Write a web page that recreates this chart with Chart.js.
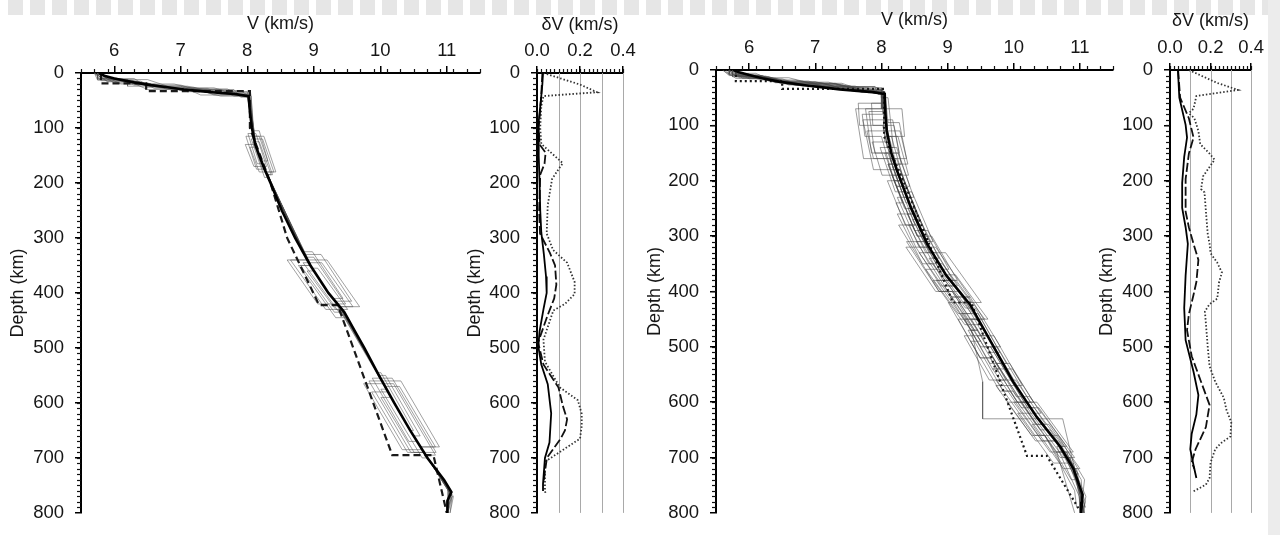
<!DOCTYPE html>
<html>
<head>
<meta charset="utf-8">
<script src="https://cdn.jsdelivr.net/npm/chart.js@4.4.1/dist/chart.umd.min.js"></script>
<style>
	html, body { margin: 0; padding: 0; background: #fff; }
	body { width: 1280px; height: 535px; position: relative; overflow: hidden; }
	.strip { position: absolute; left: 8px; top: 0; width: 1260px; height: 15px;
		background: repeating-linear-gradient(90deg, #e6e6e6 0 15px, #fff 15px 22px); }
	.side { position: absolute; left: 1268px; top: 0; width: 12px; height: 535px; background: #ececec; }
	canvas { position: absolute; top: 0; }
</style>
</head>
<body>
<div class="strip"></div>
<div class="side"></div>
<canvas id="p1" width="490" height="535" style="left:4px"></canvas>
<canvas id="p2" width="180" height="535" style="left:461px"></canvas>
<canvas id="p3" width="490" height="535" style="left:641px"></canvas>
<canvas id="p4" width="175" height="535" style="left:1093px"></canvas>
<script>
( function () {
	'use strict';

	var FONT = '"Liberation Sans", Arial, Helvetica, sans-serif';

	// tick labels
	var depthTicks = [ 0, 100, 200, 300, 400, 500, 600, 700, 800 ];
	var velTicks   = [ 6, 7, 8, 9, 10, 11 ];
	var dvTicks    = [ 0, 0.2, 0.4 ];

	// ---- left pair: [depth km, V km/s] ----
	var leftMean = [ [0,5.77],[5,5.85],[10,6.0],[17,6.3],[22,6.55],[26,6.8],[30,7.05],[33,7.3],[36,7.55],[38,7.8],
		[42,8.02],[70,8.04],[100,8.07],[130,8.12],[150,8.18],[175,8.26],[200,8.35],[250,8.52],[300,8.72],
		[350,8.95],[400,9.22],[435,9.46],[470,9.62],[500,9.76],[550,9.98],[600,10.21],[650,10.45],
		[700,10.71],[740,10.96],[762,11.07],[778,11.01],[800,11.01] ];
	var leftRef = [ [0,5.8],[19,5.8],[19,6.48],[33,6.48],[33,8.04],[100,8.04],[200,8.35],[300,8.6],[422,9.08],
		[422,9.36],[695,10.18],[695,10.8],[800,11.0] ];

	var leftModels = [
		[ [0,5.75],[12,5.75],[12,6.2],[24,6.2],[24,7.0],[40,7.3],[40,8.02],[115,8.1],[115,7.98],[175,8.14],[175,8.26],[340,8.9],[340,8.65],[430,9.18],[430,9.43],[560,10.03],[560,9.83],[690,10.46],[690,10.66],[765,11.05],[790,11.0] ],
		[ [0,5.8],[8,5.8],[8,6.0],[20,6.3],[20,6.6],[34,7.1],[34,8.0],[120,8.11],[120,8.23],[180,8.4],[180,8.28],[345,8.92],[345,9.12],[425,9.59],[425,9.39],[570,10.07],[570,10.29],[680,10.83],[680,10.61],[770,11.08],[795,11.03] ],
		[ [0,5.7],[15,5.9],[15,6.4],[28,6.6],[28,7.4],[38,7.6],[38,8.05],[110,8.09],[110,8.01],[165,8.15],[165,8.23],[335,8.88],[335,9.0],[420,9.48],[420,9.36],[555,10.0],[555,9.88],[670,10.43],[670,10.55],[760,11.04],[785,11.0] ],
		[ [0,5.75],[18,6.0],[18,6.5],[30,6.8],[30,7.6],[42,7.8],[42,8.03],[125,8.12],[125,8.18],[185,8.36],[185,8.3],[350,8.95],[350,8.8],[435,9.31],[435,9.46],[565,10.05],[565,10.2],[695,10.83],[695,10.68],[770,11.1],[800,11.05] ],
		[ [0,5.8],[10,5.8],[10,6.3],[26,6.5],[26,7.2],[40,7.5],[40,8.0],[130,8.12],[130,7.97],[170,8.1],[170,8.25],[330,8.86],[330,9.11],[415,9.57],[415,9.32],[580,10.12],[580,9.87],[690,10.41],[690,10.66],[755,11.02],[790,11.02] ],
		[ [0,5.7],[14,5.8],[14,6.2],[30,6.5],[30,7.8],[44,7.9],[44,8.04],[105,8.08],[105,8.18],[160,8.31],[160,8.21],[345,8.92],[345,8.84],[440,9.41],[440,9.49],[550,9.98],[550,10.08],[660,10.6],[660,10.5],[760,11.04],[800,11.0] ],
		[ [0,5.75],[20,6.1],[20,6.9],[35,7.4],[35,8.05],[120,8.11],[120,8.06],[190,8.26],[190,8.31],[355,8.98],[355,9.06],[430,9.51],[430,9.43],[575,10.09],[575,10.01],[700,10.63],[700,10.71],[770,11.08],[800,11.05] ],
		[ [0,5.8],[12,5.9],[12,6.5],[32,7.0],[32,7.9],[40,8.0],[115,8.1],[115,8.25],[180,8.43],[180,8.28],[340,8.9],[340,8.6],[420,9.06],[420,9.36],[560,10.03],[560,10.31],[680,10.89],[680,10.61],[765,11.07],[795,11.02] ],
		[ [0,5.7],[16,5.9],[16,6.3],[24,6.5],[24,7.1],[38,7.7],[38,8.02],[135,8.14],[135,8.04],[180,8.18],[180,8.28],[325,8.83],[325,8.98],[410,9.44],[410,9.29],[590,10.16],[590,10.01],[690,10.51],[690,10.66],[760,11.05],[790,11.02] ],
		[ [0,5.75],[10,5.75],[10,6.0],[22,6.3],[22,7.0],[42,7.6],[42,8.06],[110,8.09],[110,8.13],[170,8.29],[170,8.25],[350,8.95],[350,8.77],[445,9.33],[445,9.51],[545,9.96],[545,10.01],[650,10.5],[650,10.45],[765,11.06],[800,11.02] ],
		[ [0,5.75],[11,5.8],[11,6.1],[27,6.7],[27,7.5],[41,7.9],[41,8.03],[125,8.12],[125,8.09],[175,8.23],[175,8.26],[340,8.9],[340,9.2],[425,9.69],[425,9.39],[565,10.05],[565,9.75],[685,10.33],[685,10.63],[770,11.08],[795,11.0] ],
		[ [0,5.7],[13,5.75],[13,6.25],[29,6.9],[29,7.7],[43,7.95],[43,8.04],[115,8.1],[115,8.18],[185,8.38],[185,8.3],[360,9.0],[360,8.9],[430,9.33],[430,9.43],[555,10.0],[555,10.18],[690,10.84],[690,10.66],[760,11.05],[790,11.0] ]
	];

	// ---- left pair: [depth km, dV km/s] ----
	var leftDvSolid = [ [0,0.028],[20,0.025],[50,0.018],[80,0.01],[100,0.005],[150,0.008],[200,0.012],[250,0.015],
		[290,0.02],[330,0.032],[370,0.042],[400,0.045],[430,0.03],[470,0.012],[497,0.006],[530,0.02],[566,0.05],
		[619,0.066],[672,0.058],[700,0.037],[747,0.028],[760,0.028] ];
	var leftDvDash = [ [0,0.025],[40,0.02],[100,0.008],[130,0.012],[145,0.04],[165,0.035],[185,0.015],[250,0.01],
		[292,0.014],[327,0.06],[350,0.084],[385,0.09],[410,0.08],[440,0.05],[490,0.005],[530,0.03],[572,0.1],
		[605,0.12],[630,0.14],[650,0.13],[665,0.11],[700,0.046],[745,0.03] ];
	var leftDvDot = [ [0,0.03],[21,0.2],[35,0.28],[42,0.03],[60,0.02],[100,0.015],[129,0.02],[143,0.06],[164,0.12],
		[175,0.1],[193,0.07],[240,0.05],[292,0.045],[322,0.075],[345,0.14],[380,0.175],[402,0.175],[420,0.13],
		[432,0.076],[485,0.03],[525,0.037],[572,0.107],[595,0.19],[620,0.208],[642,0.208],[665,0.2],[689,0.107],
		[707,0.037],[760,0.037],[765,0.04] ];

	// ---- right pair ----
	var rightMean = [ [0,5.76],[4,5.85],[9,6.0],[15,6.2],[21,6.45],[28,6.87],[35,7.37],[40,7.87],[43.5,8.05],
		[80,8.06],[110,8.08],[150,8.15],[180,8.23],[250,8.45],[314,8.69],[371,8.98],[424,9.34],[488,9.64],
		[563,9.99],[627,10.35],[680,10.7],[720,10.9],[767,11.04],[780,11.03],[800,11.02] ];
	var rightRef = [ [0,5.8],[20,5.8],[20,6.5],[34,6.5],[34,8.04],[120,8.04],[220,8.4],[420,9.08],[420,9.36],
		[697,10.2],[697,10.5],[796,11.0] ];

	var rightModels = [
		[ [0,5.7],[8,5.7],[8,6.0],[20,6.3],[20,6.9],[34,7.2],[34,8.0],[70,8.01],[70,7.76],[150,7.85],[150,8.25],[230,8.49],[230,8.24],[320,8.57],[320,8.82],[410,9.34],[410,9.04],[500,9.5],[500,9.75],[600,10.25],[600,10.0],[690,10.55],[690,10.8],[790,11.08] ],
		[ [0,5.8],[12,5.8],[12,6.2],[26,6.6],[26,7.4],[40,7.7],[40,8.05],[90,8.07],[90,7.72],[180,7.88],[180,8.28],[260,8.54],[260,8.24],[350,8.62],[350,8.77],[420,9.21],[420,9.01],[520,9.49],[520,9.69],[640,10.33],[640,10.53],[720,11.0],[720,10.9],[780,11.03] ],
		[ [0,5.6],[10,5.7],[10,5.9],[18,6.2],[18,6.7],[30,7.1],[30,7.9],[44,7.95],[44,8.05],[120,8.1],[120,8.25],[190,8.41],[190,8.21],[280,8.51],[280,8.26],[400,8.87],[400,9.17],[480,9.6],[480,9.45],[600,10.05],[600,10.35],[690,10.9],[690,10.65],[800,10.92] ],
		[ [0,5.75],[15,5.9],[15,6.4],[28,6.7],[28,7.5],[42,7.9],[42,8.02],[70,8.02],[70,7.61],[160,7.73],[160,8.13],[240,8.37],[240,8.42],[330,8.77],[330,8.57],[410,9.04],[410,9.34],[500,9.8],[500,9.65],[620,10.26],[620,10.06],[710,10.6],[710,10.9],[790,11.08] ],
		[ [0,5.7],[6,5.7],[6,6.1],[22,6.4],[22,7.0],[38,7.6],[38,8.02],[100,8.08],[100,8.19],[150,8.27],[150,8.05],[210,8.23],[210,8.38],[290,8.65],[290,8.55],[370,8.92],[370,9.12],[450,9.61],[450,9.36],[540,9.78],[540,9.68],[670,10.43],[670,10.68],[740,11.02],[800,11.05] ],
		[ [0,5.8],[14,6.0],[14,6.6],[32,7.2],[32,8.0],[50,8.0],[50,8.1],[140,8.18],[140,7.98],[220,8.21],[220,8.36],[320,8.72],[320,8.52],[390,8.9],[390,8.95],[470,9.41],[470,9.36],[563,9.53],[630,9.53],[630,10.74],[720,10.92],[780,11.0] ],
		[ [0,5.7],[11,5.8],[11,6.2],[25,6.5],[25,7.3],[41,7.8],[41,8.04],[110,8.03],[110,8.28],[170,8.4],[170,8.1],[250,8.35],[250,8.5],[340,8.87],[340,8.72],[430,9.27],[430,9.42],[510,9.79],[510,9.64],[590,10.04],[590,10.24],[680,10.8],[680,10.7],[760,11.02],[800,11.0] ],
		[ [0,5.75],[16,6.0],[16,6.5],[24,6.7],[24,7.4],[36,7.7],[36,8.0],[80,8.02],[80,7.71],[120,7.75],[120,8.0],[200,8.19],[200,8.34],[270,8.57],[270,8.47],[360,8.87],[360,8.67],[440,9.16],[440,9.46],[530,9.89],[530,9.74],[650,10.4],[650,10.55],[730,10.98],[730,10.93],[790,11.05] ],
		[ [0,5.65],[9,5.7],[9,6.1],[21,6.4],[21,7.0],[39,7.6],[39,8.05],[95,8.1],[95,8.27],[160,8.38],[160,8.13],[230,8.34],[230,8.44],[310,8.73],[310,8.38],[400,8.87],[400,9.07],[470,9.46],[470,9.31],[580,9.84],[580,9.99],[690,10.65],[690,10.8],[770,11.09],[800,11.05] ],
		[ [0,5.8],[13,5.9],[13,6.3],[27,6.6],[27,7.3],[40,7.7],[40,8.0],[60,8.05],[60,7.85],[100,7.87],[100,8.02],[180,8.18],[180,8.28],[280,8.61],[280,8.41],[350,8.72],[350,8.92],[420,9.36],[420,9.16],[500,9.55],[500,9.65],[610,10.21],[610,10.38],[700,10.92],[700,10.8],[780,11.05] ],
		[ [0,5.7],[7,5.8],[7,6.0],[23,6.4],[23,7.1],[37,7.5],[37,8.02],[130,8.05],[130,7.86],[190,8.01],[190,8.31],[260,8.54],[260,8.39],[330,8.67],[330,8.97],[420,9.51],[420,9.26],[480,9.55],[480,9.25],[560,9.63],[560,10.03],[640,10.48],[640,10.28],[720,10.75],[720,10.95],[800,11.07] ],
		[ [0,5.75],[12,5.75],[12,6.1],[29,6.8],[29,7.6],[43,8.0],[70,8.0],[70,8.31],[120,8.35],[120,8.05],[190,8.21],[190,8.16],[300,8.54],[300,8.69],[380,9.08],[380,8.78],[460,9.26],[460,9.51],[600,10.2],[600,9.9],[670,10.33],[670,10.63],[750,11.0],[800,11.05] ],
		[ [0,5.6],[15,5.8],[15,6.3],[30,7.0],[30,7.9],[40,8.05],[140,8.08],[140,8.23],[210,8.43],[210,8.23],[290,8.5],[290,8.7],[360,9.02],[360,8.87],[440,9.36],[440,9.21],[540,9.68],[540,9.98],[620,10.41],[620,10.26],[700,10.75],[700,10.85],[780,11.08],[800,11.05] ],
		[ [0,5.8],[10,5.8],[10,6.2],[20,6.4],[20,6.8],[35,7.4],[35,8.0],[75,8.05],[75,7.81],[150,7.9],[150,8.1],[220,8.31],[220,8.46],[310,8.78],[310,8.53],[390,8.95],[390,9.1],[450,9.46],[450,9.16],[520,9.49],[520,9.64],[610,10.11],[610,10.31],[680,10.75],[680,10.65],[770,10.99],[800,11.0] ],
		[ [0,5.7],[9,5.75],[9,6.15],[22,6.5],[22,7.2],[38,7.7],[38,8.04],[90,8.06],[90,8.17],[170,8.3],[170,8.1],[240,8.32],[240,8.22],[320,8.52],[320,8.37],[400,8.82],[400,9.07],[480,9.5],[480,9.7],[570,10.13],[570,9.73],[660,10.27],[660,10.67],[740,11.07],[790,11.02] ],
		[ [0,5.75],[14,5.85],[14,6.35],[31,7.0],[31,7.75],[44,8.05],[110,8.08],[110,7.78],[160,7.88],[160,8.23],[250,8.5],[250,8.4],[330,8.72],[330,8.82],[390,9.15],[390,8.95],[490,9.5],[490,9.35],[580,9.79],[580,9.94],[660,10.42],[660,10.47],[760,10.92],[790,10.95] ],
		[ [0,5.7],[12,5.8],[12,6.3],[25,6.6],[25,7.3],[39,7.8],[39,8.03],[60,8.03],[60,7.65],[100,7.67],[100,8.07],[200,8.29],[200,8.09],[280,8.36],[280,8.46],[380,8.93],[380,9.13],[450,9.56],[450,9.26],[530,9.64],[530,9.94],[600,10.3],[600,10.1],[700,10.7],[700,10.85],[800,11.07] ],
		[ [0,5.8],[11,5.85],[11,6.25],[24,6.6],[24,7.3],[42,7.9],[42,8.05],[120,8.1],[120,8.15],[200,8.34],[200,8.19],[300,8.54],[300,8.76],[380,9.15],[380,8.83],[470,9.36],[470,9.46],[560,9.88],[560,9.73],[660,10.32],[660,10.47],[740,10.87],[740,10.97],[790,11.03] ]
	];

	var rightDvSolid = [ [0,0.039],[50,0.046],[99,0.077],[122,0.084],[157,0.07],[204,0.06],[249,0.06],[284,0.077],
		[314,0.088],[371,0.077],[430,0.07],[488,0.077],[545,0.116],[587,0.14],[622,0.13],[657,0.107],[685,0.1],
		[714,0.116],[737,0.13] ];
	var rightDvDash = [ [0,0.04],[50,0.05],[87,0.093],[122,0.116],[151,0.093],[197,0.077],[256,0.077],[284,0.093],
		[314,0.116],[343,0.14],[383,0.13],[406,0.116],[441,0.093],[470,0.084],[517,0.107],[563,0.153],[605,0.195],
		[645,0.177],[685,0.126],[709,0.107],[720,0.12] ];
	var rightDvDot = [ [0,0.093],[23,0.23],[36,0.335],[47,0.13],[70,0.116],[78,0.093],[87,0.12],[110,0.14],[134,0.149],
		[151,0.195],[162,0.22],[192,0.163],[215,0.153],[221,0.17],[260,0.178],[296,0.186],[314,0.195],[331,0.2],
		[348,0.233],[366,0.256],[383,0.242],[413,0.233],[423,0.195],[436,0.172],[458,0.177],[500,0.186],[535,0.195],
		[563,0.223],[592,0.265],[615,0.279],[636,0.302],[662,0.298],[674,0.251],[685,0.223],[709,0.2],[737,0.195],
		[749,0.177],[761,0.116] ];

	function pts( rows ) {
		return rows.map( function ( r ) { return { x: r[1], y: r[0] }; } );
	}

	function line( rows, color, width, dash ) {
		return {
			data:        pts( rows ),
			showLine:    true,
			borderColor: color,
			borderWidth: width,
			borderDash:  dash || [],
			pointRadius: 0,
			tension:     0,
			fill:        false,
		};
	}

	// minor ticks on both axes + light vertical grid for the dV panels
	var minorTicks = {
		id: 'minorTicks',
		beforeDatasetsDraw: function ( chart, args, o ) {
			if ( ! o.grid ) {
				return;
			}
			var ctx = chart.ctx, a = chart.chartArea, xs = chart.scales.x;
			ctx.save();
			ctx.strokeStyle = '#a9a9a9';
			ctx.lineWidth = 1;
			o.grid.forEach( function ( v ) {
				var x = Math.round( xs.getPixelForValue( v ) ) + 0.5;
				ctx.beginPath();
				ctx.moveTo( x, a.top );
				ctx.lineTo( x, a.bottom );
				ctx.stroke();
			} );
			ctx.restore();
		},
		afterDraw: function ( chart, args, o ) {
			var ctx = chart.ctx, a = chart.chartArea, xs = chart.scales.x, ys = chart.scales.y;
			ctx.save();
			ctx.strokeStyle = '#111';
			ctx.lineWidth = 1.2;
			var n = Math.round( ( xs.max - xs.min ) / o.xStep );
			for ( var i = 0; i <= n; i++ ) {
				var v = xs.min + i * o.xStep;
				var x = Math.round( xs.getPixelForValue( v ) ) + 0.5;
				ctx.beginPath();
				ctx.moveTo( x, a.top );
				ctx.lineTo( x, a.top - 4 );
				ctx.stroke();
			}
			for ( var d = 10; d < 800; d += 10 ) {
				var y = Math.round( ys.getPixelForValue( d ) ) + 0.5;
				ctx.beginPath();
				ctx.moveTo( a.left, y );
				ctx.lineTo( a.left - 4, y );
				ctx.stroke();
			}
			ctx.restore();
		},
	};

	function makePanel( id, p ) {
		new Chart( document.getElementById( id ), {
			type: 'scatter',
			data: { datasets: p.datasets },
			plugins: [ minorTicks ],
			options: {
				responsive:       false,
				animation:        false,
				devicePixelRatio: 1,
				events:           [],
				layout: { padding: { left: 0, top: 0, right: p.padRight, bottom: p.padBottom } },
				plugins: {
					legend:  { display: false },
					tooltip: { enabled: false },
					minorTicks: { xStep: p.xStep, grid: p.grid },
				},
				scales: {
					x: {
						type: 'linear', position: 'top', min: p.xMin, max: p.xMax,
						afterBuildTicks: function ( s ) {
							s.ticks = p.xTicks.map( function ( v ) { return { value: v }; } );
						},
						afterFit: function ( s ) { s.height = p.axisTop; },
						border: { display: true, color: '#000', width: 2 },
						grid: { drawOnChartArea: false, drawTicks: true, tickLength: 7, color: '#000', lineWidth: 1.5 },
						ticks: {
							color: '#161616', font: { family: FONT, size: 18.5 }, padding: 4,
							maxRotation: 0, autoSkip: false,
							callback: p.xFmt,
						},
						title: {
							display: true, text: p.xTitle, color: '#161616',
							font: { family: FONT, size: 18 }, padding: { top: p.titleTop, bottom: 0 },
						},
					},
					y: {
						type: 'linear', position: 'left', min: 0, max: 800, reverse: true,
						afterBuildTicks: function ( s ) {
							s.ticks = depthTicks.map( function ( v ) { return { value: v }; } );
						},
						afterFit: function ( s ) { s.width = p.axisLeft; },
						border: { display: true, color: '#000', width: 2 },
						grid: { drawOnChartArea: false, drawTicks: true, tickLength: 6, color: '#000', lineWidth: 1.5 },
						ticks: { color: '#161616', font: { family: FONT, size: 18.5 }, padding: 11, autoSkip: false },
						title: {
							display: true, text: 'Depth (km)', color: '#161616',
							font: { family: FONT, size: 18 }, padding: { top: 3, bottom: 0 },
						},
					},
				},
			},
		} );
	}

	function velDatasets( mean, ref, refDash, models, grey ) {
		var sets = [
			line( mean, '#000', 2.6 ),
			line( ref, '#1a1a1a', 2.2, refDash ),
		];
		models.forEach( function ( m ) {
			sets.push( line( m, grey, 0.9 ) );
		} );
		return sets;
	}

	function dvDatasets( solid, dash, dot ) {
		return [
			line( solid, '#000', 1.8 ),
			line( dash, '#111', 1.8, [ 9, 3 ] ),
			line( dot, '#333', 1.8, [ 1.5, 2 ] ),
		];
	}

	var velFmt = function ( v ) { return String( v ); };
	var dvFmt  = function ( v ) { return v.toFixed( 1 ); };

	makePanel( 'p1', {
		datasets: velDatasets( leftMean, leftRef, [ 7, 4 ], leftModels, 'rgba(80,80,80,0.6)' ),
		xMin: 5.5, xMax: 11.5, xTicks: velTicks, xStep: 0.2, xFmt: velFmt, xTitle: 'V (km/s)',
		axisTop: 73, axisLeft: 77, padRight: 14, padBottom: 5, titleTop: 13,
	} );
	makePanel( 'p2', {
		datasets: dvDatasets( leftDvSolid, leftDvDash, leftDvDot ),
		xMin: 0, xMax: 0.4, xTicks: dvTicks, xStep: 0.02, xFmt: dvFmt, xTitle: '\u03b4V (km/s)',
		grid: [ 0.1, 0.2, 0.3, 0.4 ],
		axisTop: 73, axisLeft: 76, padRight: 18, padBottom: 5, titleTop: 14,
	} );
	makePanel( 'p3', {
		datasets: velDatasets( rightMean, rightRef, [ 2, 3 ], rightModels, 'rgba(70,70,70,0.6)' ),
		xMin: 5.5, xMax: 11.5, xTicks: velTicks, xStep: 0.2, xFmt: velFmt, xTitle: 'V (km/s)',
		axisTop: 70, axisLeft: 75, padRight: 18, padBottom: 6, titleTop: 9,
	} );
	makePanel( 'p4', {
		datasets: dvDatasets( rightDvSolid, rightDvDash, rightDvDot ),
		xMin: 0, xMax: 0.4, xTicks: dvTicks, xStep: 0.02, xFmt: dvFmt, xTitle: '\u03b4V (km/s)',
		grid: [ 0.1, 0.2, 0.3, 0.4 ],
		axisTop: 70, axisLeft: 77, padRight: 12, padBottom: 6, titleTop: 10,
	} );
} )();
</script>
</body>
</html>
